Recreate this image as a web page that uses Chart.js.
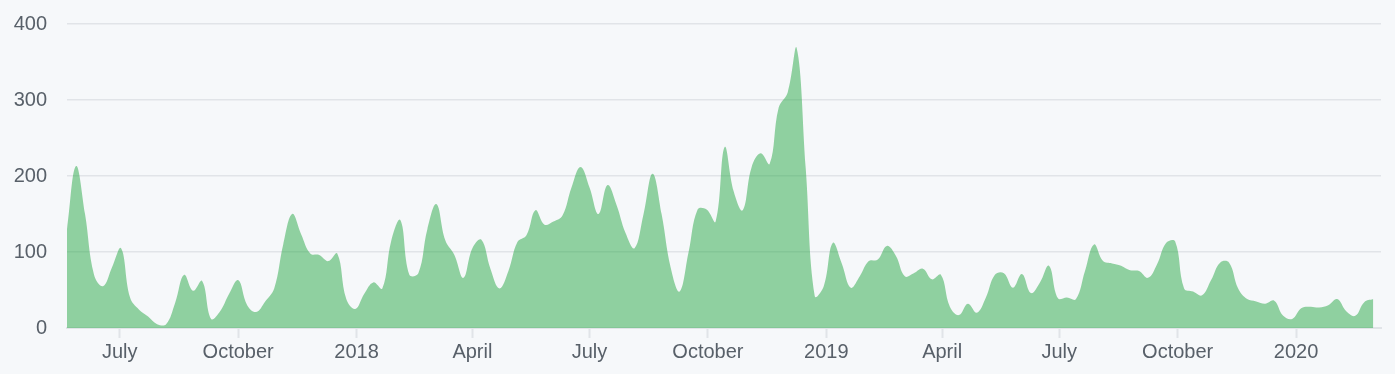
<!DOCTYPE html>
<html>
<head>
<meta charset="utf-8">
<script src="https://cdn.jsdelivr.net/npm/chart.js@4/dist/chart.umd.min.js"></script>
<style>
	html, body { margin: 0; padding: 0; background: #f6f8fa; }
	#wrap { width: 1395px; height: 374px; }
</style>
</head>
<body>
<div id="wrap"><canvas id="myChart" width="1395" height="374"></canvas></div>
<script>
// weekly commit counts, one per week starting on this Sunday
const weekStart = '2017-05-21';
const commits = [
	130, 213, 150, 70, 55, 80, 105, 40, 24, 15,
	5, 5, 33, 70, 49, 62, 12, 22, 45, 63,
	30, 21, 35, 52, 110, 150, 123, 98, 96, 88,
	98, 38, 25, 45, 60, 52, 115, 142, 70, 72,
	130, 163, 115, 96, 66, 105, 116, 78, 52, 75,
	113, 122, 155, 136, 140, 148, 185, 212, 185, 150,
	188, 162, 125, 105, 150, 203, 150, 80, 48, 100,
	156, 156, 140, 238, 180, 155, 212, 230, 216, 290,
	310, 368, 210, 42, 55, 112, 85, 53, 68, 88,
	90, 108, 95, 68, 72, 78, 64, 70, 28, 17,
	32, 20, 40, 70, 72, 53, 71, 46, 60, 82,
	39, 40, 38, 75, 110, 88, 85, 82, 76, 75,
	66, 84, 112, 114, 52, 48, 43, 63, 86, 86,
	52, 38, 35, 32, 36, 16, 12, 26, 28, 27,
	30, 38, 22, 16, 34, 38
];
const axisEnd = '2020-03-07';
const tickDates = ['2017-07-01', '2017-10-01', '2018-01-01', '2018-04-01', '2018-07-01', '2018-10-01',
	'2019-01-01', '2019-04-01', '2019-07-01', '2019-10-01', '2020-01-01'];
const tickLabels = ['July', 'October', '2018', 'April', 'July', 'October', '2019', 'April', 'July', 'October', '2020'];
const yMax = 400;
const yStep = 100;

function dayNum(str){
	let p = str.split('-');
	return Date.UTC(+p[0], +p[1]-1, +p[2]) / 86400000;
}

let origin = dayNum(weekStart);
let points = commits.map((v, i) => ({x: i*7, y: v}));
let tickDays = tickDates.map(d => dayNum(d) - origin);

let textColor = '#586069';
let lineColor = '#e1e4e8';

new Chart(document.getElementById('myChart').getContext('2d'), {
	type: 'line',
	data: {
		datasets: [{
			data: points,
			fill: 'origin',
			backgroundColor: 'rgba(40, 167, 69, 0.5)',
			borderWidth: 0,
			borderColor: 'rgba(0,0,0,0)',
			pointRadius: 0,
			tension: 0.4
		}]
	},
	options: {
		responsive: false,
		animation: false,
		layout: {padding: {top: 24, right: 14, bottom: 0, left: 0}},
		plugins: {legend: {display: false}, tooltip: {enabled: false}},
		scales: {
			x: {
				type: 'linear',
				min: 0,
				max: dayNum(axisEnd) - origin,
				afterBuildTicks: (scale) => {
					scale.ticks = tickDays.map(v => ({value: v}));
				},
				afterFit: (scale) => { scale.height = 46; },
				ticks: {
					autoSkip: false,
					maxRotation: 0,
					padding: 2,
					color: textColor,
					font: {family: 'Liberation Sans', size: 20},
					callback: (value, index) => tickLabels[index]
				},
				grid: {
					drawOnChartArea: false,
					drawTicks: true,
					tickLength: 10,
					tickWidth: 2,
					tickColor: lineColor
				},
				border: {display: true, color: lineColor, width: 2}
			},
			y: {
				min: 0,
				max: yMax,
				afterFit: (scale) => {
					scale.width = 67;
					scale.paddingTop = 0;
					scale.paddingBottom = 0;
				},
				ticks: {
					stepSize: yStep,
					padding: 20,
					color: textColor,
					font: {family: 'Liberation Sans', size: 20}
				},
				grid: {color: lineColor, lineWidth: 1.5, drawTicks: false},
				border: {display: false}
			}
		}
	}
});
</script>
</body>
</html>
